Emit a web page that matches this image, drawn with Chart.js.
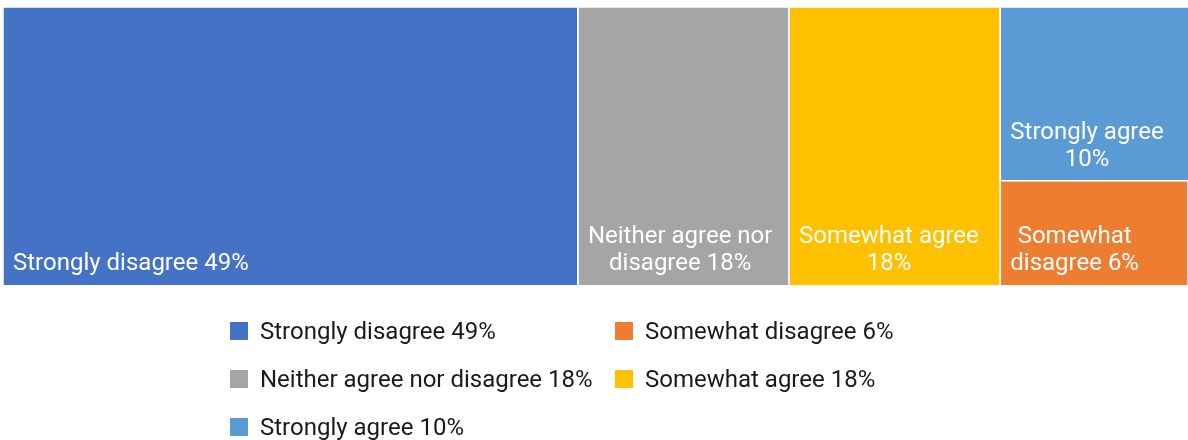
<!DOCTYPE html>
<html>
<head>
<meta charset="utf-8">
<title>Survey responses</title>
<script src="https://cdn.jsdelivr.net/npm/chart.js@4.4.1/dist/chart.umd.min.js"></script>
<style>
  html, body { margin: 0; padding: 0; background: #ffffff; }
  #wrap { position: relative; width: 1188px; height: 440px; }
  #chart { position: absolute; left: 0; top: 0; }
  #legend {
    position: absolute; left: 230px; top: 307px;
    display: grid; grid-template-columns: 385px auto; grid-auto-rows: 48px;
    font-family: Roboto, "Noto Sans", sans-serif; font-size: 24px; color: #1a1a1a;
  }
  #legend .item { display: flex; align-items: center; white-space: nowrap; }
  #legend .sw { width: 18px; height: 18px; margin-right: 12px; flex: none; }
</style>
</head>
<body>
<div id="wrap">
  <canvas id="chart" width="1188" height="440"></canvas>
  <div id="legend"></div>
</div>
<script>
// Responses, in scale order
const categories = ['Strongly disagree', 'Somewhat disagree', 'Neither agree nor disagree', 'Somewhat agree', 'Strongly agree'];
const shares = [49, 6, 18, 18, 10];
const colors = ['#4472C4', '#ED7D31', '#A5A5A5', '#FFC000', '#5B9BD5'];

// Width-to-height ratio of the plotting area, used by the squarified layout
const ASPECT = 1185 / 279;

const labelOf = i => categories[i] + ' ' + shares[i] + '%';

// Squarified treemap: returns rectangles in data units (x right, y up)
function squarify(items, x, y, w, h) {
  const total = items.reduce((s, it) => s + it.value, 0);
  const scale = (w * h) / total;
  let rest = items.map(it => Object.assign({}, it, { area: it.value * scale }));
  const out = [];
  const worst = (row, side) => {
    const s = row.reduce((a, r) => a + r.area, 0);
    let m = 0;
    for (const r of row) {
      m = Math.max(m, (side * side * r.area) / (s * s), (s * s) / (side * side * r.area));
    }
    return m;
  };
  let top = y + h; // y is bottom, top is upper edge
  while (rest.length) {
    const side = Math.min(w, h);
    const row = [rest[0]];
    let i = 1;
    while (i < rest.length && worst(row.concat(rest[i]), side) <= worst(row, side)) {
      row.push(rest[i]);
      i++;
    }
    rest = rest.slice(i);
    const sum = row.reduce((a, r) => a + r.area, 0);
    if (w >= h) {
      // column along the left edge, items stacked from the top
      const cw = sum / h;
      let cy = top;
      for (const r of row) {
        const rh = r.area / cw;
        out.push({ index: r.index, x0: x, x1: x + cw, y0: cy - rh, y1: cy });
        cy -= rh;
      }
      x += cw; w -= cw;
    } else {
      // row along the top edge, items placed from the left
      const rh = sum / w;
      let cx = x;
      for (const r of row) {
        const rw = r.area / rh;
        out.push({ index: r.index, x0: cx, x1: cx + rw, y0: top - rh, y1: top });
        cx += rw;
      }
      top -= rh; h -= rh;
    }
  }
  return out;
}

const order = shares.map((v, i) => ({ value: v, index: i })).sort((a, b) => b.value - a.value);
const rects = squarify(order, 0, 0, ASPECT, 1);

// Each tile is a closed outline filled down to its own bottom edge
const datasets = rects.map(r => ({
  label: labelOf(r.index),
  data: [
    { x: r.x0, y: r.y0 }, { x: r.x0, y: r.y1 },
    { x: r.x1, y: r.y1 }, { x: r.x1, y: r.y0 }
  ],
  backgroundColor: colors[r.index],
  borderColor: '#ffffff',
  borderWidth: 1.5,
  pointRadius: 0,
  pointHoverRadius: 0,
  tension: 0,
  fill: { value: r.y0 },
  tile: r
}));

// Wrap a label into lines that fit the given width
function wrapText(ctx, text, maxW) {
  const words = text.split(' ');
  const lines = [];
  let cur = '';
  for (const w of words) {
    const test = cur ? cur + ' ' + w : w;
    if (cur && ctx.measureText(test).width > maxW) {
      lines.push(cur);
      cur = w;
    } else {
      cur = test;
    }
  }
  if (cur) lines.push(cur);
  return lines;
}

const tileLabels = {
  id: 'tileLabels',
  afterDatasetsDraw(chart) {
    const { ctx, scales: { x, y } } = chart;
    ctx.save();
    ctx.font = '24px Roboto, "Noto Sans", sans-serif';
    ctx.fillStyle = '#ffffff';
    ctx.textBaseline = 'middle';
    ctx.textAlign = 'center';
    const pad = 10, lineH = 27, bottomGap = 21;
    chart.data.datasets.forEach(ds => {
      const r = ds.tile;
      const left = x.getPixelForValue(r.x0), right = x.getPixelForValue(r.x1);
      const bottom = y.getPixelForValue(r.y0);
      const lines = wrapText(ctx, ds.label, right - left - 2 * pad);
      const blockW = Math.max(...lines.map(l => ctx.measureText(l).width));
      const cx = left + pad + blockW / 2;
      lines.forEach((l, k) => {
        const yy = bottom - bottomGap - (lines.length - 1 - k) * lineH;
        ctx.fillText(l, cx, yy);
      });
    });
    ctx.restore();
  }
};

const chart = new Chart(document.getElementById('chart'), {
  type: 'line',
  data: { datasets },
  options: {
    responsive: false,
    animation: false,
    layout: { padding: { left: 3, top: 7, right: 0, bottom: 155 } },
    scales: {
      x: { type: 'linear', min: 0, max: ASPECT, display: false },
      y: { type: 'linear', min: 0, max: 1, display: false }
    },
    plugins: {
      legend: { display: false },
      tooltip: { enabled: false },
      filler: { drawTime: 'beforeDatasetsDraw' }
    }
  },
  plugins: [tileLabels]
});

// Legend, in scale order
const legendEl = document.getElementById('legend');
categories.forEach((c, i) => {
  const item = document.createElement('div');
  item.className = 'item';
  const sw = document.createElement('span');
  sw.className = 'sw';
  sw.style.background = colors[i];
  const txt = document.createElement('span');
  txt.textContent = labelOf(i);
  item.appendChild(sw);
  item.appendChild(txt);
  legendEl.appendChild(item);
});
</script>
</body>
</html>
